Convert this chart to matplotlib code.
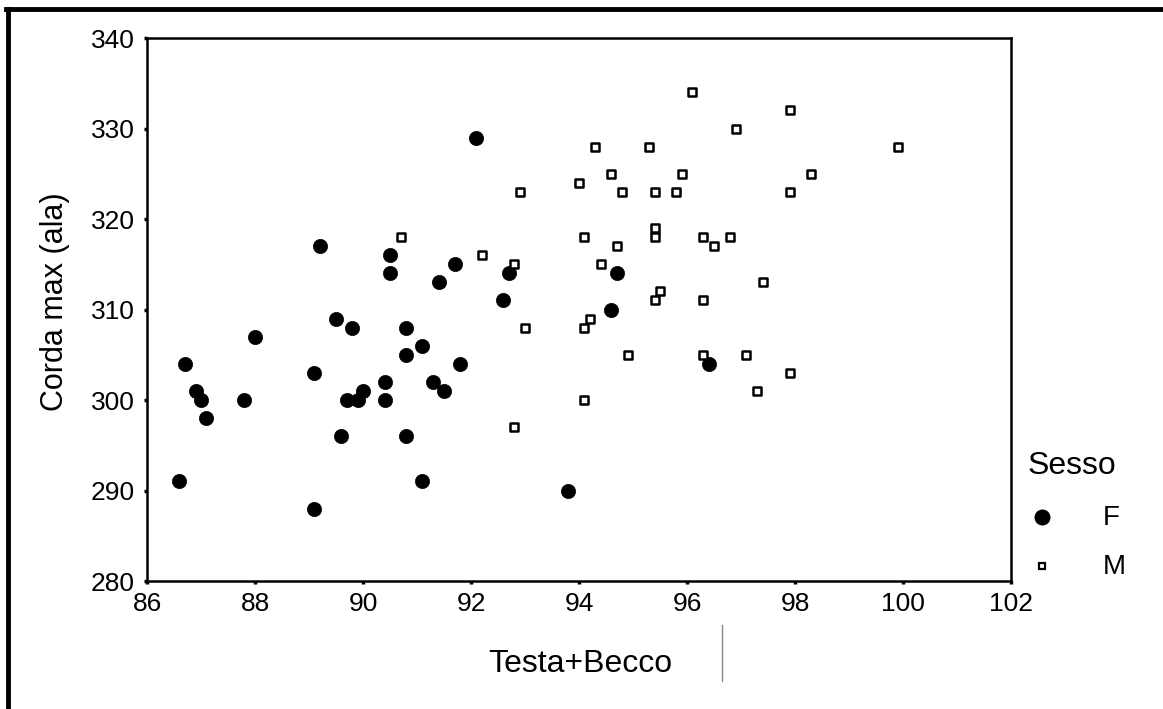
import matplotlib
matplotlib.use("Agg")
import matplotlib.pyplot as plt
from matplotlib.lines import Line2D

plt.rcParams['font.family'] = ['Liberation Sans', 'DejaVu Sans']

# Data: females (F, filled circles)
f_x = [86.6, 86.7, 86.9, 87.0, 87.1, 87.8, 88.0, 89.1, 89.1, 89.2, 89.5, 89.6, 89.8,
       89.7, 89.9, 90.0, 90.4, 90.4, 90.5, 90.5, 90.8, 90.8, 90.8, 91.1, 91.1, 91.3,
       91.4, 91.5, 91.7, 91.8, 92.1, 92.6, 92.7, 93.8, 94.6, 94.7, 96.4]
f_y = [291, 304, 301, 300, 298, 300, 307, 303, 288, 317, 309, 296, 308,
       300, 300, 301, 302, 300, 316, 314, 308, 305, 296, 306, 291, 302,
       313, 301, 315, 304, 329, 311, 314, 290, 310, 314, 304]

# Data: males (M, open squares)
m_x = [90.7, 92.2, 92.8, 92.8, 92.9, 93.0, 94.0, 94.1, 94.1, 94.1, 94.2, 94.3, 94.4,
       94.6, 94.7, 94.8, 94.9, 95.3, 95.4, 95.4, 95.4, 95.4, 95.5, 95.8, 95.9, 96.1,
       96.3, 96.3, 96.3, 96.5, 96.8, 96.9, 97.1, 97.3, 97.4, 97.9, 97.9, 97.9, 98.3, 99.9]
m_y = [318, 316, 315, 297, 323, 308, 324, 318, 308, 300, 309, 328, 315,
       325, 317, 323, 305, 328, 323, 319, 318, 311, 312, 323, 325, 334,
       318, 311, 305, 317, 318, 330, 305, 301, 313, 332, 323, 303, 325, 328]

x_ticks = [86, 88, 90, 92, 94, 96, 98, 100, 102]
y_ticks = [280, 290, 300, 310, 320, 330, 340]
x_label = "Testa+Becco"
y_label = "Corda max (ala)"
legend_title = "Sesso"
groups = ["F", "M"]

fig = plt.figure(figsize=(11.63, 7.09), dpi=100)
ax = fig.add_axes([0.1264, 0.1805, 0.7429, 0.7659])

ax.scatter(f_x, f_y, s=105, marker='o', facecolor='black', edgecolor='black',
           linewidth=0.5, zorder=3)
ax.scatter(m_x, m_y, s=38, marker='s', facecolor='white', edgecolor='black',
           linewidth=1.8, zorder=3)

ax.set_xlim(86, 102)
ax.set_ylim(280, 340)
ax.set_xticks(x_ticks)
ax.set_yticks(y_ticks)
ax.tick_params(axis='both', direction='out', length=2, width=2.5, labelsize=19,
               colors='black')
ax.tick_params(axis='x', pad=6)
ax.tick_params(axis='y', pad=7)
for sp in ax.spines.values():
    sp.set_linewidth(1.8)
    sp.set_color('black')

ax.set_xlabel(x_label, fontsize=23, va='center')
ax.xaxis.set_label_coords(0.5017, -0.153)
ax.set_ylabel(y_label, fontsize=22, va='center')
ax.yaxis.set_label_coords(-0.1066, 0.514)

# legend (placed to match the original layout)
def fx(px):
    return px / 1163.0

def fy(py):
    return 1.0 - py / 709.0

fig.text(fx(1028), fy(466), legend_title, fontsize=23, ha='left', va='center')
leg_markers = [dict(marker='o', markersize=10.5, markerfacecolor='black',
                    markeredgecolor='black'),
               dict(marker='s', markersize=5, markerfacecolor='white',
                    markeredgecolor='black', markeredgewidth=1.6)]
leg_rows = [517, 566]
for name, style, row in zip(groups, leg_markers, leg_rows):
    fig.add_artist(Line2D([fx(1042)], [fy(row)], linestyle='none',
                          transform=fig.transFigure, **style))
    fig.text(fx(1103), fy(row + 1), name, fontsize=20, ha='left', va='center')

# figure frame (top and left heavy border of the scanned page)
fig.add_artist(Line2D([0.005, 1.0], [0.988, 0.988], color='black', linewidth=3.5,
                      transform=fig.transFigure))
fig.add_artist(Line2D([0.0065, 0.0065], [0.0, 0.988], color='black', linewidth=3.5,
                      transform=fig.transFigure))
fig.add_artist(Line2D([0.621, 0.621], [0.04, 0.118], color='#888888', linewidth=1.0,
                      transform=fig.transFigure))

fig.savefig("out.png", dpi=100, facecolor='white')
